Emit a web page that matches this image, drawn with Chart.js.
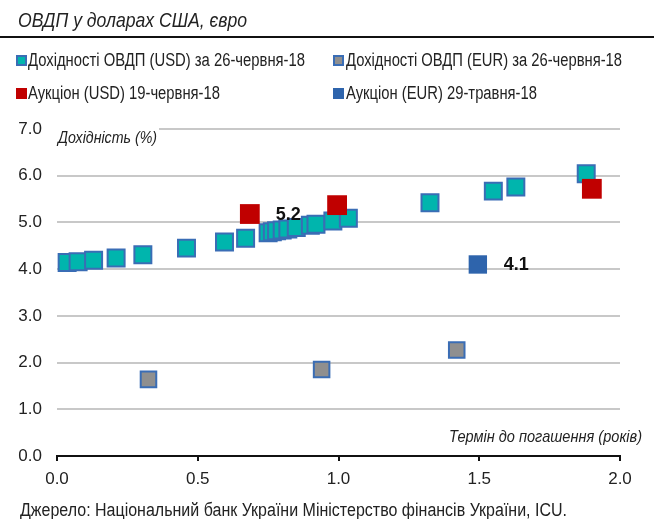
<!DOCTYPE html>
<html lang="uk">
<head>
  <meta charset="UTF-8">
  <title>ОВДП у доларах США, євро</title>
  <script src="https://cdn.jsdelivr.net/npm/chart.js"></script>
  <style>
    body {
      margin: 0;
      background: #fff;
      font-family: 'Liberation Sans', Arial, sans-serif;
      color: #222;
    }
    #wrap {
      position: relative;
      width: 654px;
      height: 519px;
      overflow: hidden;
    }
    #chartBox {
      position: absolute;
      left: 0;
      top: 0;
      width: 654px;
      height: 519px;
    }
    .txt {
      position: absolute;
      white-space: nowrap;
      transform-origin: 0 0;
      line-height: normal;
    }
    #title {
      left: 18px;
      top: 8px;
      font-size: 21px;
      font-style: italic;
    }
    #rule {
      position: absolute;
      left: 0;
      top: 36px;
      width: 654px;
      height: 2px;
      background: #111;
    }
    .leg { font-size: 18px; }
    .mark {
      position: absolute;
      width: 11px;
      height: 11px;
      box-sizing: border-box;
    }
    #source { left: 20px; top: 500px; font-size: 18px; }
  </style>
</head>
<body>
<div id="wrap">
  <div id="chartBox"><canvas id="yieldChart"></canvas></div>
  <div id="title" class="txt" data-w="229">ОВДП у доларах США, євро</div>
  <div id="rule"></div>

  <div class="mark" style="left:16px;top:55px;background:#00b5ad;border:2px solid #3a6db5"></div>
  <div class="txt leg" style="left:28px;top:50px" data-w="277">Дохідності ОВДП (USD) за 26-червня-18</div>
  <div class="mark" style="left:333px;top:55px;background:#8f8f8f;border:2px solid #3a6db5"></div>
  <div class="txt leg" style="left:346px;top:50px" data-w="276">Дохідності ОВДП (EUR) за 26-червня-18</div>
  <div class="mark" style="left:16px;top:88px;background:#c00000"></div>
  <div class="txt leg" style="left:28px;top:83px" data-w="192">Аукціон (USD) 19-червня-18</div>
  <div class="mark" style="left:333px;top:88px;background:#2e64ac"></div>
  <div class="txt leg" style="left:346px;top:83px" data-w="191">Аукціон (EUR) 29-травня-18</div>

  <div id="source" class="txt" data-w="547">Джерело: Національний банк України Міністерство фінансів України, ICU.</div>
</div>

<script>
  // term to maturity (years) and yield (%)
  const usdTerms = [0.036, 0.075, 0.13, 0.21, 0.305, 0.46, 0.595, 0.67, 0.75, 0.765, 0.78, 0.80, 0.82, 0.85, 0.90, 0.92, 0.98, 1.035, 1.325, 1.55, 1.63, 1.88];
  const usdYields = [4.14, 4.16, 4.19, 4.24, 4.31, 4.45, 4.58, 4.66, 4.78, 4.80, 4.82, 4.84, 4.86, 4.89, 4.94, 4.96, 5.03, 5.09, 5.42, 5.67, 5.76, 6.04];

  const eurTerms = [0.325, 0.94, 1.42];
  const eurYields = [1.64, 1.85, 2.27];

  const usdAuctionTerms = [0.685, 0.995, 1.90];
  const usdAuctionYields = [5.18, 5.37, 5.72];
  const usdAuctionLabels = ['5.2', '', ''];

  const eurAuctionTerms = [1.495];
  const eurAuctionYields = [4.10];
  const eurAuctionLabels = ['4.1'];

  const xTicks = [0, 0.5, 1, 1.5, 2];
  const yTicks = [0, 1, 2, 3, 4, 5, 6, 7];

  const FONT = "'Liberation Sans', Arial, sans-serif";

  // squeeze the html texts to the narrow width of the original
  document.querySelectorAll('.txt[data-w]').forEach(el => {
    const w = el.getBoundingClientRect().width;
    el.style.transform = 'scaleX(' + (parseFloat(el.dataset.w) / w) + ')';
  });

  function toPoints(xs, ys) {
    return xs.map((x, i) => ({ x: x, y: ys[i] }));
  }

  function narrowText(ctx, txt, x, y, width) {
    const w = ctx.measureText(txt).width;
    ctx.save();
    ctx.translate(x, y);
    ctx.scale(width / w, 1);
    ctx.fillText(txt, 0, 0);
    ctx.restore();
  }

  // bold value labels to the right of marked points
  const pointLabels = {
    id: 'pointLabels',
    afterDatasetsDraw(chart) {
      const ctx = chart.ctx;
      ctx.save();
      ctx.font = 'bold 18px ' + FONT;
      ctx.fillStyle = '#111';
      ctx.textAlign = 'left';
      ctx.textBaseline = 'middle';
      chart.data.datasets.forEach((ds, di) => {
        if (!ds.valueLabels) return;
        const meta = chart.getDatasetMeta(di);
        meta.data.forEach((pt, i) => {
          const txt = ds.valueLabels[i];
          if (txt) ctx.fillText(txt, pt.x + 26, pt.y + 1);
        });
      });
      ctx.restore();
    }
  };

  // axis titles in italics, white box behind the y title
  const axisTitles = {
    id: 'axisTitles',
    afterDraw(chart) {
      const ctx = chart.ctx;
      const area = chart.chartArea;
      ctx.save();
      ctx.font = 'italic 17px ' + FONT;
      ctx.textBaseline = 'middle';
      ctx.textAlign = 'left';
      ctx.fillStyle = '#fff';
      ctx.fillRect(area.left, area.top - 3, 102, 6);
      ctx.fillStyle = '#222';
      narrowText(ctx, 'Дохідність (%)', area.left + 1, area.top + 9, 99);
      narrowText(ctx, 'Термін до погашення (років)', area.right - 171, area.bottom - 19, 193);
      ctx.restore();
    }
  };

  const ctx = document.getElementById('yieldChart').getContext('2d');
  const yieldChart = new Chart(ctx, {
    type: 'scatter',
    data: {
      datasets: [
        {
          label: 'Дохідності ОВДП (USD) за 26-червня-18',
          data: toPoints(usdTerms, usdYields),
          pointStyle: 'rect',
          pointRadius: 12,
          backgroundColor: '#00b5ad',
          borderColor: '#3a6db5',
          borderWidth: 2,
          order: 3
        },
        {
          label: 'Дохідності ОВДП (EUR) за 26-червня-18',
          data: toPoints(eurTerms, eurYields),
          pointStyle: 'rect',
          pointRadius: 11,
          backgroundColor: '#8f8f8f',
          borderColor: '#3a6db5',
          borderWidth: 2,
          order: 2
        },
        {
          label: 'Аукціон (USD) 19-червня-18',
          data: toPoints(usdAuctionTerms, usdAuctionYields),
          valueLabels: usdAuctionLabels,
          pointStyle: 'rect',
          pointRadius: 14,
          backgroundColor: '#c00000',
          borderWidth: 0,
          order: 1
        },
        {
          label: 'Аукціон (EUR) 29-травня-18',
          data: toPoints(eurAuctionTerms, eurAuctionYields),
          valueLabels: eurAuctionLabels,
          pointStyle: 'rect',
          pointRadius: 13,
          backgroundColor: '#2e64ac',
          borderWidth: 0,
          order: 0
        }
      ]
    },
    options: {
      responsive: true,
      maintainAspectRatio: false,
      animation: false,
      layout: {
        padding: { top: 129, right: 34, bottom: 28, left: 0 }
      },
      plugins: {
        legend: { display: false },
        tooltip: { enabled: false }
      },
      scales: {
        x: {
          type: 'linear',
          min: 0,
          max: 2,
          afterBuildTicks: (scale) => { scale.ticks = xTicks.map(v => ({ value: v })); },
          afterFit: (scale) => { scale.height = 35; },
          ticks: {
            color: '#222',
            font: { family: FONT, size: 17 },
            padding: 8,
            callback: v => v.toFixed(1)
          },
          grid: {
            drawOnChartArea: false,
            drawTicks: true,
            tickLength: 5,
            color: '#111',
            lineWidth: 2
          },
          border: { display: true, color: '#111', width: 2 }
        },
        y: {
          type: 'linear',
          min: 0,
          max: 7,
          afterBuildTicks: (scale) => { scale.ticks = yTicks.map(v => ({ value: v })); },
          afterFit: (scale) => { scale.width = 57; },
          ticks: {
            color: '#222',
            font: { family: FONT, size: 17 },
            padding: 15,
            callback: v => v.toFixed(1)
          },
          grid: {
            drawTicks: false,
            color: '#c8c8c8',
            lineWidth: 2
          },
          border: { display: false }
        }
      }
    },
    plugins: [pointLabels, axisTitles]
  });
</script>
</body>
</html>
